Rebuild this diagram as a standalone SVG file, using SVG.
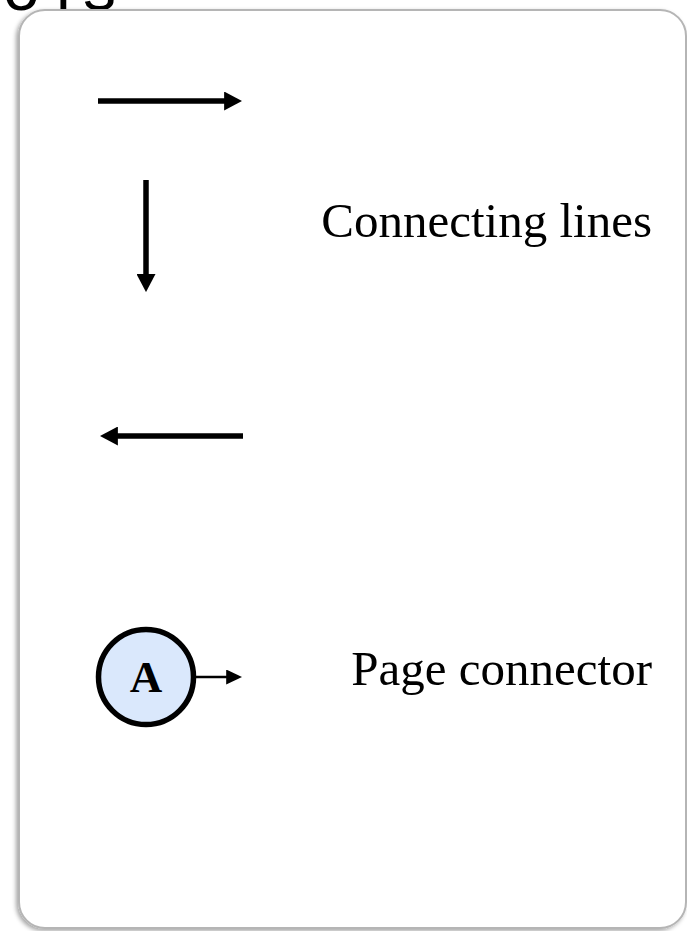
<svg xmlns="http://www.w3.org/2000/svg" width="687" height="931" viewBox="0 0 687 931">
  <defs>
    <style>
      .lbl { font-family: "Liberation Serif", "Times New Roman", serif; font-size: 49px; fill: #000; }
      .conn { stroke: #000; fill: none; }
    </style>
    <filter id="shadow" x="-5%" y="-5%" width="110%" height="110%">
      <feDropShadow dx="-2" dy="2" stdDeviation="2" flood-color="#000" flood-opacity="0.35"/>
    </filter>
    <marker id="head" viewBox="0 0 10 10" refX="0.5" refY="5" markerWidth="18" markerHeight="19" orient="auto" markerUnits="userSpaceOnUse" preserveAspectRatio="none">
      <path d="M0,0 L10,5 L0,10 Z" fill="#000"/>
    </marker>
    <marker id="headSmall" viewBox="0 0 10 10" refX="0.5" refY="5" markerWidth="16" markerHeight="15" orient="auto" markerUnits="userSpaceOnUse" preserveAspectRatio="none">
      <path d="M0,0 L10,5 L0,10 Z" fill="#000"/>
    </marker>
  </defs>

  <rect width="687" height="931" fill="#fff"/>

  <g id="title">
    <text x="3 56 83" y="10" font-family="Liberation Sans, Arial, sans-serif" font-size="66" fill="#000">ols</text>
  </g>

  <g id="card">
    <rect x="19" y="10" width="667" height="918" rx="26" ry="26" fill="#fff" stroke="#b5b5b5" stroke-width="2" filter="url(#shadow)"/>
  </g>

  <g id="connectors">
    <line class="conn" x1="98" y1="101" x2="225" y2="101" stroke-width="5.5" marker-end="url(#head)"/>
    <line class="conn" x1="146" y1="180" x2="146" y2="275" stroke-width="5.5" marker-end="url(#head)"/>
    <line class="conn" x1="243" y1="436" x2="117" y2="436" stroke-width="5.5" marker-end="url(#head)"/>
    <line class="conn" x1="196" y1="677" x2="227" y2="677" stroke-width="2.5" marker-end="url(#headSmall)"/>
  </g>

  <g id="label-connecting">
    <text class="lbl" x="652" y="237" text-anchor="end">Connecting lines</text>
  </g>

  <g id="page-connector">
    <circle cx="146" cy="677" r="47.5" fill="#dae8fc" stroke="#000" stroke-width="5.5"/>
    <text x="146" y="692" text-anchor="middle" font-family="Liberation Serif, Times New Roman, serif" font-weight="bold" font-size="45" fill="#000">A</text>
  </g>

  <g id="label-page">
    <text class="lbl" x="652" y="685" text-anchor="end">Page connector</text>
  </g>
</svg>
